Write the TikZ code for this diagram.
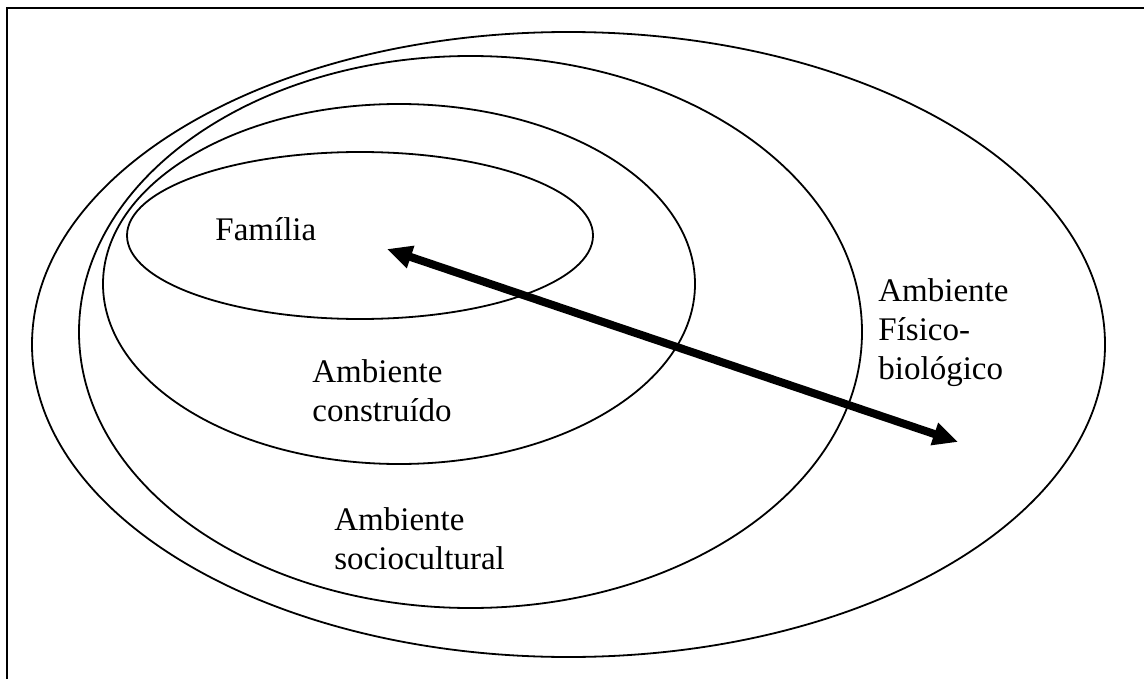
\documentclass[tikz,border=0pt]{standalone}
\usepackage{fontspec}
\setmainfont{Liberation Serif}
\usetikzlibrary{shapes.geometric}
\usetikzlibrary{arrows.meta}

\begin{document}
\begin{tikzpicture}[
        x=0.5pt, y=-0.5pt,
        every node/.style={font=\fontsize{16.5}{19.5}\selectfont},
        ring/.style={ellipse, draw=black, line width=0.9pt, inner sep=0pt},
        label/.style={align=left, anchor=base west, inner sep=0pt},
        frame/.style={draw=black, line width=1.4pt},
        link/.style={line width=4pt, {Triangle[length=12.5pt, width=11pt]}-{Triangle[length=12.5pt, width=11pt]}},
    ]

    \useasboundingbox (0,0) rectangle (1144,679);
    \draw[frame] (7,679) -- (7,8) -- (1144,8);

    \node[ring, minimum width=536.5pt, minimum height=312.5pt] (E4) at (568.5,344.5) {};
    \node[ring, minimum width=391.5pt, minimum height=276pt]   (E3) at (470.5,332)   {};
    \node[ring, minimum width=296pt,   minimum height=180pt]   (E2) at (399,284)     {};
    \node[ring, minimum width=233pt,   minimum height=83.5pt]  (E1) at (360,235.5)   {};

    % base = last line of each label
    \node[label] (L1) at (215,241) {Família};
    \node[label] (L2) at (312,421) {Ambiente\\construído};
    \node[label] (L3) at (334,569) {Ambiente\\sociocultural};
    \node[label] (L4) at (878,379) {Ambiente\\Físico-\\biológico};

    \coordinate (A1) at (387,249);
    \coordinate (A2) at (958,442);

    \draw[link] (A1) -- (A2);

\end{tikzpicture}
\end{document}
